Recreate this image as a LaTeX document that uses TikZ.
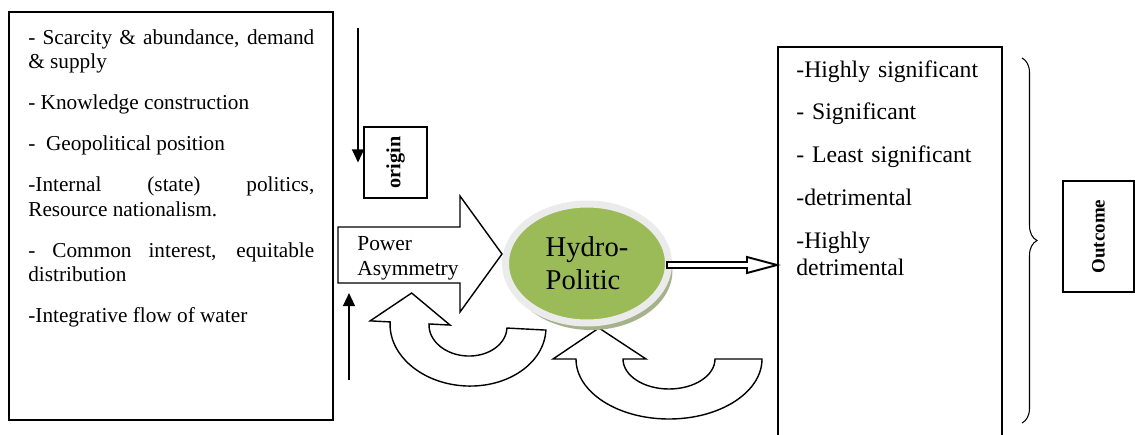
\documentclass[tikz,border=0pt]{standalone}
\usepackage{fontspec}
\setmainfont{Liberation Serif}
\usetikzlibrary{arrows.meta,shapes.geometric,decorations.pathreplacing,shadows}
\definecolor{hydrogreen}{HTML}{9BBB59}
\definecolor{ringgray}{HTML}{EBEBEB}
\definecolor{shadegreen}{HTML}{A6B28C}
\begin{document}
\begin{tikzpicture}[x=0.02cm,y=0.02cm,
    framebox/.style={draw,line width=1pt,inner sep=0pt},
    listtext/.style={inner sep=0pt,anchor=north west},
    blockarrow/.style={draw,line width=0.8pt,fill=white,line join=miter},
    thinarrow/.style={line width=1.1pt,-{Triangle[length=7.5pt,width=6.8pt]}}]
\useasboundingbox (0,0) rectangle (1135,434);

% left box with the factors
\node[framebox,anchor=north west,minimum width=6.48cm,minimum height=8.16cm] (factorbox) at (8,423) {};
\node[listtext,text width=5.72cm,align=justify,font=\fontsize{12.1}{14}\selectfont] (factors) at (28,405) {\setlength{\parskip}{9.3pt}\hyphenpenalty=10000%
- Scarcity \& abundance, demand\linebreak \& supply\par
- Knowledge construction\par
-~ Geopolitical position\par
-Internal (state) politics,\linebreak Resource nationalism.\par
- Common interest, equitable\linebreak distribution\par
-Integrative flow of water};

% origin and the two thin arrows
\node[draw,line width=0.8pt,rotate=90,minimum width=1.42cm,minimum height=1.26cm,
      font=\fontsize{11.5}{13}\selectfont\bfseries] (origin) at (395.5,271.5) {origin};
\coordinate (topstart) at (358,406);
\draw[thinarrow] (topstart) -- (topstart |- origin.north);
\coordinate (lowstart) at (349,54);
\coordinate (lowend) at (349,141);
\draw[thinarrow] (lowstart) -- (lowend);

% power asymmetry block arrow
\draw[blockarrow] (338,207) -- (460,207) -- (460,238) -- (502,180) -- (460,122) -- (460,151) -- (338,151) -- cycle;
\node[inner sep=0pt,anchor=west,align=left,font=\fontsize{12.2}{14.2}\selectfont] (power) at (357,176) {Power\\Asymmetry};

% feedback loops
\begin{scope}[shift={(468,108)},rotate=-3]
\draw[blockarrow] (78,0) arc[start angle=0,end angle=-180,x radius=78,y radius=60]
   -- (-98,0) -- (-58,30) -- (-18,0) -- (-39,0)
   arc[start angle=180,end angle=360,x radius=39,y radius=30] -- cycle;
\end{scope}
\begin{scope}[shift={(669,75)}]
\draw[blockarrow] (93,0) arc[start angle=0,end angle=-180,x radius=93,y radius=60]
   -- (-116,0) -- (-70,31) -- (-23,0) -- (-46,0)
   arc[start angle=180,end angle=360,x radius=46,y radius=30] -- cycle;
\end{scope}

% hydro-politic
\node[ellipse,draw=ringgray,line width=0.14cm,fill=hydrogreen,inner sep=0pt,
      minimum width=3.26cm,minimum height=2.38cm,
      drop shadow={shadow xshift=0.08cm,shadow yshift=-0.14cm,fill=shadegreen,opacity=1},
      align=left,font=\fontsize{16.3}{18.7}\selectfont] (hydro) at (587,170.5) {Hydro-\\Politic};

% right box with the outcomes
\node[framebox,anchor=north west,minimum width=4.48cm,minimum height=8.4cm] (resultbox) at (777,388) {};
\node[listtext,text width=4cm,align=left,font=\fontsize{13.5}{15.3}\selectfont] (levels) at (796,374) {\setlength{\parskip}{9.1pt}%
-Highly significant\par
- Significant\par
- Least significant\par
-detrimental\par
-Highly\\detrimental};

\draw[blockarrow,line width=1.1pt] (667,172) -- (747,172) -- (747,177) -- (resultbox.west |- 0,169) -- (747,161) -- (747,166) -- (667,166) -- cycle;

% brace and outcome
\draw[line width=0.6pt,decorate,decoration={brace,amplitude=0.3cm}] (1022,376) -- (1022,11);
\node[draw,line width=0.8pt,rotate=90,minimum width=2.22cm,minimum height=1.42cm,
      font=\fontsize{10.8}{12}\selectfont\bfseries] (outcome) at (1098.5,197.5) {Outcome};
\end{tikzpicture}
\end{document}
